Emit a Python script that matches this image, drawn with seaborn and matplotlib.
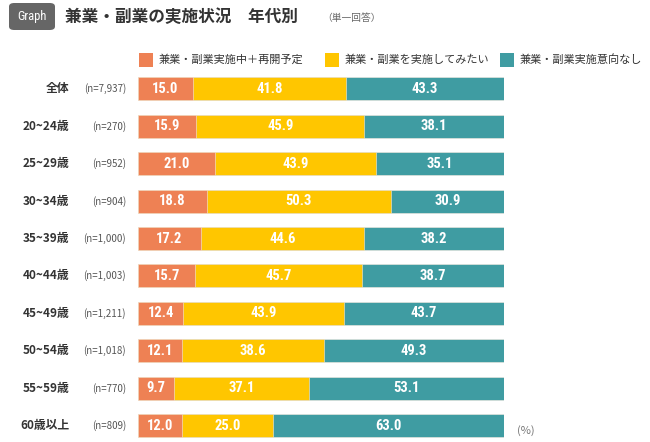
#!/usr/bin/env python3
"""Stacked bar chart: side job status by age group."""

import matplotlib

matplotlib.use("Agg")
import matplotlib.pyplot as plt
from matplotlib.patches import FancyBboxPatch, Rectangle
import numpy as np
import pandas as pd
import seaborn as sns

groups = ["全体", "20~24歳", "25~29歳", "30~34歳", "35~39歳",
          "40~44歳", "45~49歳", "50~54歳", "55~59歳", "60歳以上"]
n_labels = ["(n=7,937)", "(n=270)", "(n=952)", "(n=904)", "(n=1,000)",
            "(n=1,003)", "(n=1,211)", "(n=1,018)", "(n=770)", "(n=809)"]
doing = [15.0, 15.9, 21.0, 18.8, 17.2, 15.7, 12.4, 12.1, 9.7, 12.0]
want = [41.8, 45.9, 43.9, 50.3, 44.6, 45.7, 43.9, 38.6, 37.1, 25.0]
no_plan = [43.3, 38.1, 35.1, 30.9, 38.2, 38.7, 43.7, 49.3, 53.1, 63.0]

series_names = ["兼業・副業実施中＋再開予定", "兼業・副業を実施してみたい", "兼業・副業実施意向なし"]
colors = ["#EE8154", "#FFC600", "#3F9CA2"]

W, H = 650, 442


def fx(px):
    return px / W


def fy(py):
    return 1 - py / H


sns.set_theme(style="white")
plt.rcParams["font.family"] = ["Noto Sans CJK JP", "DejaVu Sans"]
narrow = ["Roboto Condensed", "Liberation Sans Narrow", "DejaVu Sans Condensed", "Roboto"]

df = pd.DataFrame({"group": groups, "doing": doing, "want": want, "no_plan": no_plan})
total = df[["doing", "want", "no_plan"]].sum(axis=1)
df["c1"] = df["doing"] / total * 100
df["c2"] = (df["doing"] + df["want"]) / total * 100
df["c3"] = 100.0

fig = plt.figure(figsize=(6.5, 4.42), dpi=100)
fig.patch.set_facecolor("white")

# bar area: x 138..504 px, row 0 centred at y=89, row 9 at y=425.5
row_gap = (425.5 - 89) / 9
top_px = 89 - row_gap / 2
bot_px = 425.5 + row_gap / 2
ax = fig.add_axes([fx(138), fy(bot_px), fx(504) - fx(138), (bot_px - top_px) / H])

bar_w = 23 / row_gap
for col, c in zip(["c3", "c2", "c1"], colors[::-1]):
    sns.barplot(data=df, x=col, y="group", orient="h", color=c, width=bar_w,
                edgecolor="#f3e9e0", linewidth=0.4, saturation=1, ax=ax)

ax.set_xlim(0, 100)
ax.set_ylim(len(groups) - 0.5, -0.5)
ax.axis("off")

ytrans = ax.get_yaxis_transform()
for i, row in df.iterrows():
    starts = [0, row["c1"], row["c2"]]
    ends = [row["c1"], row["c2"], row["c3"]]
    vals = [row["doing"], row["want"], row["no_plan"]]
    for s, e, v in zip(starts, ends, vals):
        ax.text((s + e) / 2, i, f"{v:.1f}", ha="center", va="center",
                color="white", fontsize=10.5, fontweight="bold", family=narrow)

    # row labels left of the bars
    ax.text((69 - 138) / 366, i, groups[i], transform=ytrans,
            ha="right", va="center", fontsize=8.5, fontweight="bold", color="#333333")
    ax.text((126 - 138) / 366, i, n_labels[i], transform=ytrans,
            ha="right", va="center", fontsize=7, color="#555555")

fig.text(fx(517), fy(431), "(%)", ha="left", va="center", fontsize=8, color="#777777")

# header
box = FancyBboxPatch((fx(9), fy(30)), fx(55) - fx(9), (30 - 3) / H,
                     boxstyle="round,pad=0,rounding_size=0.008",
                     transform=fig.transFigure, facecolor="#666666", edgecolor="none")
fig.patches.append(box)
fig.text(fx(32), fy(16.5), "Graph", ha="center", va="center", color="white",
         fontsize=9, family=narrow)
fig.text(fx(65), fy(17), "兼業・副業の実施状況　年代別", ha="left", va="center",
         fontsize=12, fontweight="bold", color="#333333")
fig.text(fx(322), fy(18), "（単一回答）", ha="left", va="center",
         fontsize=7, color="#666666")

# legend
legend_x = [(139, 159), (325, 345), (500, 520)]
for (sq_x, tx_x), name, c in zip(legend_x, series_names, colors):
    fig.patches.append(Rectangle((fx(sq_x), fy(67)), 14 / W, 14 / H,
                                 transform=fig.transFigure, facecolor=c, edgecolor="none"))
    fig.text(fx(tx_x), fy(60), name, ha="left", va="center", fontsize=8,
             color="#333333")

fig.savefig("out.png", dpi=100)
plt.close(fig)
